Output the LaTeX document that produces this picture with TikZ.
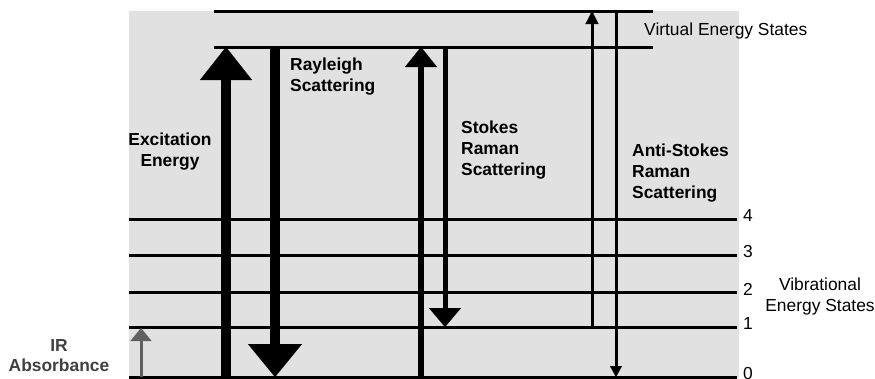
\documentclass[tikz,border=0pt]{standalone}
\usepackage{fontspec}
\setmainfont{Liberation Sans}
\usetikzlibrary{arrows.meta}
\definecolor{bggray}{HTML}{E1E1E1}
\definecolor{irgray}{HTML}{606060}
\definecolor{irtext}{HTML}{404040}
\tikzset{
  level/.style={line width=3pt},
  lbl/.style={inner sep=0pt, font=\fontsize{17.4}{20.8}\selectfont\bfseries},
  plainlbl/.style={inner sep=0pt, font=\fontsize{17.4}{20.8}\selectfont},
  numlbl/.style={inner sep=0pt, anchor=west, font=\fontsize{17.4}{20.8}\selectfont},
}
\begin{document}
\begin{tikzpicture}[x=1pt,y=-1pt]
\useasboundingbox (0,0) rectangle (875,378);
\fill[bggray] (129,11) rectangle (739,378);

% virtual levels
\coordinate (v1l) at (214,11); \coordinate (v1r) at (653,11);
\coordinate (v2l) at (214,47); \coordinate (v2r) at (653,47);
\draw[level] (v1l) -- (v1r);
\draw[level] (v2l) -- (v2r);

% vibrational levels
\foreach \n/\y in {4/219,3/255,2/292,1/327,0/377}{
  \coordinate (L\n l) at (129,\y);
  \coordinate (L\n r) at (737,\y);
  \draw[level] (L\n l) -- (L\n r);
  \node[numlbl] (num\n) at (743,\y-3) {\n};
}

% arrows
\coordinate (exB) at (226,377); \coordinate (exT) at (226,47);
\draw[line width=10pt,-{Triangle[length=33pt,width=52pt,line width=0.1pt]}] (exB) -- (exT);
\coordinate (raT) at (275,47); \coordinate (raB) at (275,377);
\draw[line width=10pt,-{Triangle[length=33pt,width=54pt,line width=0.1pt]}] (raT) -- (raB);
\coordinate (stB) at (421,377); \coordinate (stT) at (421,47);
\draw[line width=6pt,-{Triangle[length=20pt,width=32pt,line width=0.1pt]}] (stB) -- (stT);
\coordinate (sdT) at (445,47); \coordinate (sdB) at (445,327);
\draw[line width=5pt,-{Triangle[length=19pt,width=32pt,line width=0.1pt]}] (sdT) -- (sdB);
\coordinate (asB) at (592,327); \coordinate (asT) at (592,11);
\draw[line width=3pt,-{Triangle[length=13pt,width=13pt,line width=0.1pt]}] (asB) -- (asT);
\coordinate (adT) at (616,11); \coordinate (adB) at (616,377);
\draw[line width=3pt,-{Triangle[length=11pt,width=12pt,line width=0.1pt]}] (adT) -- (adB);
\coordinate (irB) at (141,377); \coordinate (irT) at (141,328);
\draw[irgray,line width=3pt,-{Triangle[length=13pt,width=21pt,line width=0.1pt]}] (irB) -- (irT);

% labels
\node[lbl,anchor=north west,align=left] (ray) at (290,58) {Rayleigh\\Scattering};
\node[lbl,anchor=north,align=center] (exc) at (170,133) {Excitation\\Energy};
\node[lbl,anchor=north west,align=left] (sto) at (461,121) {Stokes\\Raman\\Scattering};
\node[lbl,anchor=north west,align=left] (ast) at (632,144) {Anti-Stokes\\Raman\\Scattering};
\node[plainlbl,anchor=north west] (virt) at (644,23) {Virtual Energy States};
\node[plainlbl,anchor=north,align=center] (vib) at (820,278) {Vibrational\\Energy States};
\node[lbl,anchor=north,align=center,text=irtext] (ir) at (59,339) {IR\\Absorbance};
\end{tikzpicture}
\end{document}
